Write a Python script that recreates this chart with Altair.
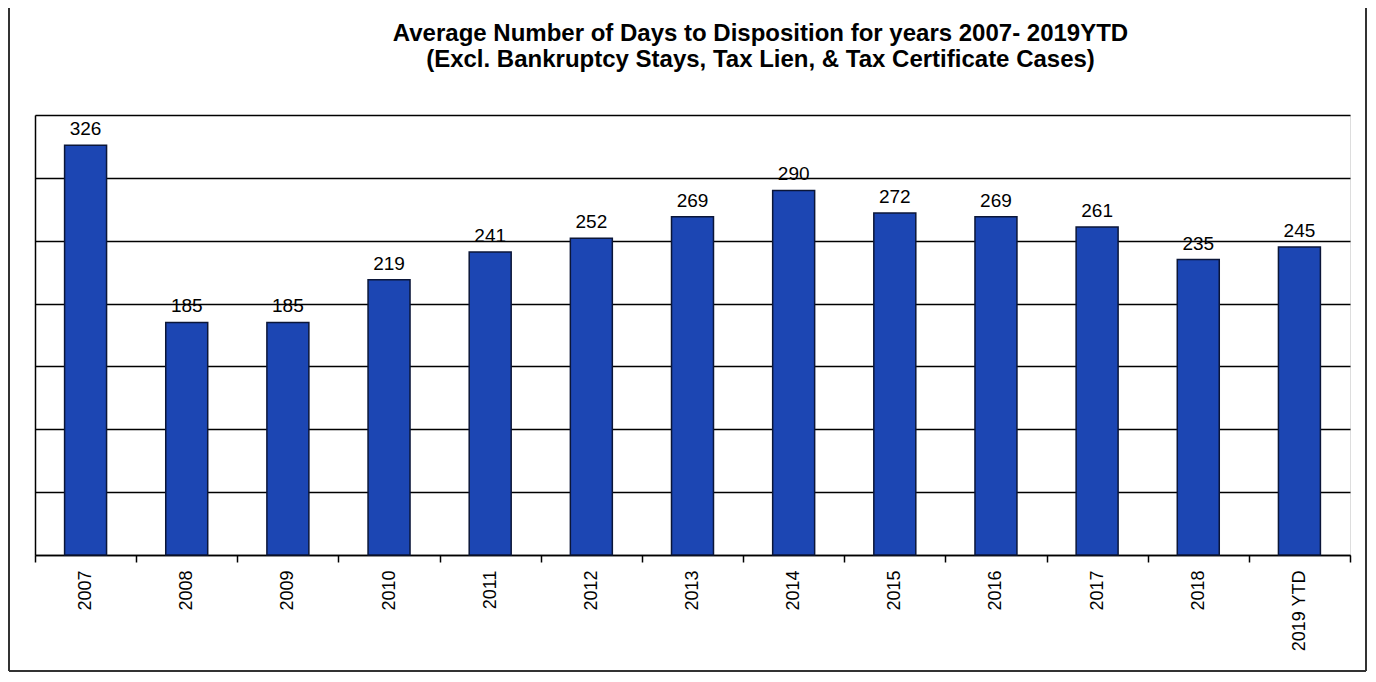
import altair as alt
import pandas as pd

years = ["2007", "2008", "2009", "2010", "2011", "2012", "2013",
         "2014", "2015", "2016", "2017", "2018", "2019 YTD"]
days = [326, 185, 185, 219, 241, 252, 269, 290, 272, 269, 261, 235, 245]
grid_values = [0, 50, 100, 150, 200, 250, 300, 350]

df = pd.DataFrame({"year": years, "days": days})

FONT = "Liberation Sans"
W, H = 1315, 440

x = alt.X("year:N", sort=years, title=None,
          scale=alt.Scale(paddingInner=0, paddingOuter=0),
          axis=alt.Axis(labelAngle=270, labelFontSize=18, labelFont=FONT,
                        labelColor="black", labelPadding=8, tickBand="extent",
                        tickSize=7, tickColor="black", tickWidth=1.5,
                        domainColor="black", domainWidth=1.5,
                        labelBaseline="middle", labelAlign="right"))
y = alt.Y("days:Q", title=None,
          scale=alt.Scale(domain=[0, 350], nice=False),
          axis=alt.Axis(values=grid_values, labels=False, ticks=False,
                        grid=True, gridColor="black", gridWidth=1.5,
                        gridOpacity=1, domainColor="black", domainWidth=1.5))

base = alt.Chart(df)

bars = base.mark_bar(color="#1c46b3", stroke="#0b1638", strokeWidth=1.5,
                     width=alt.RelativeBandSize(0.415)).encode(x=x, y=y)

labels = base.mark_text(dy=-16, fontSize=19, font=FONT, color="black").encode(
    x=alt.X("year:N", sort=years), y="days:Q", text="days:Q")

frame_left = base.mark_rule(color="#333333", strokeWidth=1.5).encode(
    x=alt.value(-26), y=alt.value(-107), y2=alt.value(556))
frame_right = base.mark_rule(color="#333333", strokeWidth=1.5).encode(
    x=alt.value(1331), y=alt.value(-107), y2=alt.value(556))
frame_bottom = base.mark_rule(color="#333333", strokeWidth=1.5).encode(
    x=alt.value(-26), x2=alt.value(1331), y=alt.value(556))

chart = alt.layer(bars, labels, frame_left, frame_right, frame_bottom).properties(
    width=W, height=H,
    title=alt.TitleParams(
        text=["Average Number of Days to Disposition  for years 2007-  2019YTD",
              "(Excl. Bankruptcy  Stays, Tax Lien, & Tax Certificate Cases)"],
        fontSize=24, font=FONT, fontWeight="bold", color="black",
        anchor="middle", frame="group", dx=68, dy=65, offset=0, lineHeight=26),
    autosize=alt.AutoSizeParams(type="none"),
    padding={"left": 27, "top": 107, "right": 18, "bottom": 119},
).configure_view(stroke="black", strokeWidth=1.5).configure(background="white")

chart.save("out.html", embed_options={"renderer": "svg", "actions": False})
